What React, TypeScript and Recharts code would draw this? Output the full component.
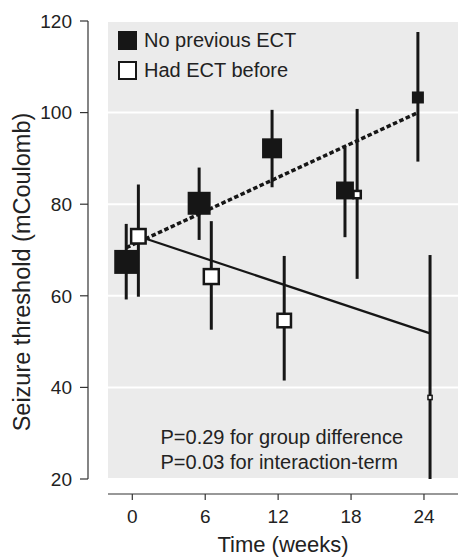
import React from 'react';
import {
  ComposedChart,
  Scatter,
  Line,
  XAxis,
  YAxis,
  CartesianGrid,
  ErrorBar,
  Legend,
  Customized,
} from 'recharts';

// weeks of measurement
const weeks = [0, 6, 12, 18, 24];
const yTicks = [20, 40, 60, 80, 100, 120];
const seriesNames = ['No previous ECT', 'Had ECT before'];

// no previous ECT: mean, CI bounds, group size
const noPrevMean = [67.4, 80.2, 92.2, 83.0, 103.3];
const noPrevLow = [59.2, 72.2, 83.7, 72.8, 89.3];
const noPrevHigh = [75.7, 88.0, 100.6, 92.3, 117.6];
const noPrevN = [36, 33, 25, 20, 9];

// had ECT before
const hadEctMean = [73.0, 64.2, 54.6, 82.1, 37.8];
const hadEctLow = [59.8, 52.6, 41.5, 63.7, 20.0];
const hadEctHigh = [84.3, 76.3, 68.7, 100.8, 68.9];
const hadEctN = [18, 19, 16, 6, 2];

// fitted trend, value at first and last week
const noPrevFit = [70.5, 100.0];
const hadEctFit = [73.0, 51.8];

const DODGE = 0.5;
const SIDE_K = 4;
const INK = '#161616';
const TEXT = '#222';
// axes sit apart from the grey panel
const Y_SHIFT = 20;
const X_SHIFT = 15;

const toPoints = (mean: number[], low: number[], high: number[], n: number[], shift: number) =>
  weeks.map((w, i) => ({
    x: w + shift,
    y: mean[i],
    err: [mean[i] - low[i], high[i] - mean[i]],
    n: n[i],
  }));

const noPrevData = toPoints(noPrevMean, noPrevLow, noPrevHigh, noPrevN, -DODGE);
const hadEctData = toPoints(hadEctMean, hadEctLow, hadEctHigh, hadEctN, DODGE);

const noPrevFitData = [
  { x: weeks[0] - DODGE, y: noPrevFit[0] },
  { x: weeks[weeks.length - 1] - DODGE, y: noPrevFit[1] },
];
const hadEctFitData = [
  { x: weeks[0] + DODGE, y: hadEctFit[0] },
  { x: weeks[weeks.length - 1] + DODGE, y: hadEctFit[1] },
];

const square = (filled: boolean) => (props: any) => {
  const { cx, cy, payload } = props;
  const side = SIDE_K * Math.sqrt(payload.n);
  if (filled) {
    return <rect x={cx - side / 2} y={cy - side / 2} width={side} height={side} fill={INK} />;
  }
  const sw = side < 8 ? 1.5 : 2.5;
  const inner = Math.max(side - sw, 0.5);
  return (
    <rect
      x={cx - inner / 2}
      y={cy - inner / 2}
      width={inner}
      height={inner}
      fill="#fff"
      stroke={INK}
      strokeWidth={sw}
    />
  );
};

const renderLegend = (props: any) => {
  const items = (props.payload || [])
    .filter((e: any) => seriesNames.includes(e.value))
    .sort((a: any, b: any) => seriesNames.indexOf(a.value) - seriesNames.indexOf(b.value));
  return (
    <div>
      {items.map((entry: any) => {
        const filled = entry.value === seriesNames[0];
        return (
          <div key={entry.value} style={{ display: 'flex', alignItems: 'center', height: 30 }}>
            <span
              style={{
                display: 'inline-block',
                width: 19,
                height: 19,
                boxSizing: 'border-box',
                background: filled ? INK : '#fff',
                border: filled ? 'none' : `2.5px solid ${INK}`,
              }}
            />
            <span style={{ marginLeft: 7, fontSize: 20, color: TEXT }}>{entry.value}</span>
          </div>
        );
      })}
    </div>
  );
};

const Note = () => (
  <text fontSize={20} fill={TEXT}>
    <tspan x={160.5} y={444}>P=0.29 for group difference</tspan>
    <tspan x={160.5} dy={25}>P=0.03 for interaction-term</tspan>
  </text>
);

export default function App() {
  return (
    <div
      style={{
        position: 'absolute',
        left: 0,
        top: 0,
        width: 458,
        height: 558,
        background: '#fff',
        fontFamily: '"Liberation Sans", Arial, sans-serif',
      }}
    >
      <style>{`.recharts-yAxis{transform:translateX(-${Y_SHIFT}px)} .recharts-xAxis{transform:translateY(${X_SHIFT}px)}`}</style>
      <ComposedChart width={458} height={558} margin={{ top: 21, right: 0, bottom: 0, left: 0 }}>
        <CartesianGrid vertical={false} fill="#ebebeb" stroke="#fff" strokeWidth={2} />
        <XAxis
          type="number"
          dataKey="x"
          domain={[-2, 26.8]}
          ticks={weeks}
          height={79}
          tickSize={6}
          tickMargin={10 + X_SHIFT}
          stroke="#333"
          strokeWidth={1.2}
          tick={{ fill: TEXT, fontSize: 19 }}
          label={{ value: 'Time (weeks)', position: 'insideBottom', offset: 6, style: { fontSize: 22, fill: TEXT } }}
        />
        <YAxis
          type="number"
          dataKey="y"
          domain={[20, 120]}
          ticks={yTicks}
          width={108}
          tickSize={8}
          tickMargin={8 + Y_SHIFT}
          stroke="#333"
          strokeWidth={1.2}
          tick={{ fill: TEXT, fontSize: 19 }}
          label={{
            value: 'Seizure threshold (mCoulomb)',
            angle: -90,
            position: 'center',
            dx: -32.5,
            dy: 22,
            style: { fontSize: 23.5, fill: TEXT },
          }}
        />
        <Line
          data={noPrevFitData}
          dataKey="y"
          stroke={INK}
          strokeWidth={3.5}
          strokeDasharray="4.5 2.5"
          dot={false}
          legendType="none"
          isAnimationActive={false}
        />
        <Line
          data={hadEctFitData}
          dataKey="y"
          stroke={INK}
          strokeWidth={2.2}
          dot={false}
          legendType="none"
          isAnimationActive={false}
        />
        <Scatter name="No previous ECT" data={noPrevData} fill={INK} shape={square(true)} isAnimationActive={false}>
          <ErrorBar dataKey="err" direction="y" width={0} stroke={INK} strokeWidth={3} />
        </Scatter>
        <Scatter name="Had ECT before" data={hadEctData} fill="#fff" shape={square(false)} isAnimationActive={false}>
          <ErrorBar dataKey="err" direction="y" width={0} stroke={INK} strokeWidth={3} />
        </Scatter>
        <Legend
          layout="vertical"
          align="center"
          verticalAlign="middle"
          content={renderLegend}
          wrapperStyle={{ left: 118, top: 25.5, width: 'auto' }}
        />
        <Customized component={Note} />
      </ComposedChart>
    </div>
  );
}
